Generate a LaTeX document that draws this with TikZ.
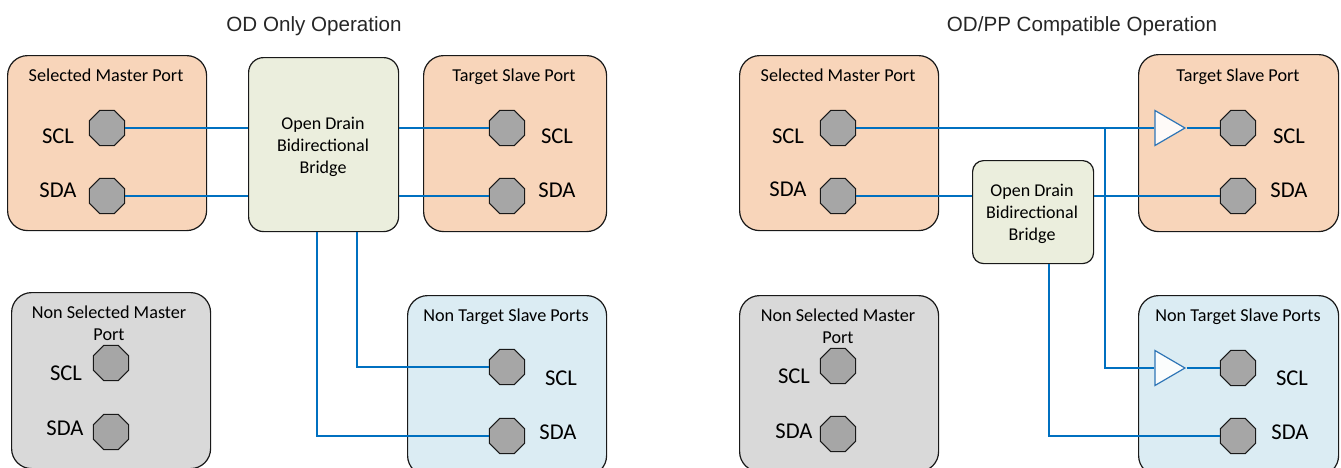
\documentclass[tikz,border=0pt]{standalone}
\usepackage{fontspec}
\setmainfont{Carlito}
\newfontfamily\titlefont{Liberation Sans}
\usetikzlibrary{shapes.geometric,calc}
\definecolor{wire}{HTML}{0070C0}
\definecolor{bufline}{HTML}{2E75B6}
\definecolor{orangebox}{HTML}{F8D5BA}
\definecolor{greenbox}{HTML}{EBEEDD}
\definecolor{bluebox}{HTML}{DBECF3}
\definecolor{graybox}{HTML}{D9D9D9}
\definecolor{octfill}{HTML}{A6A6A6}
\tikzset{
  portbox/.style={draw=black!90,line width=1.2pt,rounded corners=20pt,inner sep=0pt,anchor=north west},
  bridgebox/.style={draw=black!90,line width=1.2pt,rounded corners=15pt,fill=greenbox,inner sep=0pt,anchor=north west},
  pad/.style={regular polygon,regular polygon sides=8,draw=black!90,line width=1pt,fill=octfill,minimum size=38pt,inner sep=0pt},
  buf/.style={isosceles triangle,isosceles triangle stretches,shape border rotate=0,draw=bufline,line width=1.2pt,fill=white,fill opacity=0.9,minimum width=35pt,minimum height=30pt,inner sep=0pt},
  wr/.style={draw=wire,line width=1.7pt},
  wrthin/.style={draw=wire,line width=1.2pt},
  lab/.style={font=\fontsize{18.2}{22}\selectfont,inner sep=0pt},
  blab/.style={font=\fontsize{18}{22}\selectfont,inner sep=0pt,align=center},
  sig/.style={font=\fontsize{22.6}{26}\selectfont,inner sep=0pt},
  ttl/.style={font=\titlefont\fontsize{20.6}{24}\selectfont,inner sep=0pt,text=black!85},
}
\begin{document}
\begin{tikzpicture}[x=1pt,y=-1pt]
\useasboundingbox (0,0) rectangle (1341,467);
\fill[white] (0,0) rectangle (1341,467);
% titles
\node[ttl] (t1) at (314,26) {OD Only Operation};
\node[ttl] (t2) at (1082,26) {OD/PP Compatible Operation};
% ---------- left ----------
\node[portbox,fill=orangebox,minimum width=199pt,minimum height=175pt] (sm1) at (7,55) {};
\node[portbox,fill=orangebox,minimum width=183pt,minimum height=176pt] (ts1) at (423,55) {};
\node[portbox,fill=graybox,minimum width=199pt,minimum height=176pt] (ns1) at (11,292) {};
\node[portbox,fill=bluebox,minimum width=199pt,minimum height=180pt] (nt1) at (407,295) {};
\node[bridgebox,minimum width=150pt,minimum height=174pt] (br1) at (248,57) {};
\node[blab] (brt1) at (323,147) {Open Drain\\Bidirectional\\Bridge};
\node[lab] at (106,75) {Selected Master Port};
\node[lab] at (514,77) {Target Slave Port};
\node[lab] at (506,317) {Non Target Slave Ports};
\node[lab,align=center] at (109,323) {Non Selected Master\\Port};
\node[sig] at (58,136) {SCL};
\node[sig] at (58,190) {SDA};
\node[sig] at (557,136) {SCL};
\node[sig] at (557,190) {SDA};
\node[sig] at (66,373) {SCL};
\node[sig] at (65,428) {SDA};
\node[sig] at (561,378) {SCL};
\node[sig] at (558,432) {SDA};
\node[pad] (a1) at (107,128) {};
\node[pad] (a2) at (107,196) {};
\node[pad] (b1) at (507,128) {};
\node[pad] (b2) at (507,196) {};
\node[pad] (c1) at (111,363) {};
\node[pad] (c2) at (111,432) {};
\node[pad] (d1) at (507,367) {};
\node[pad] (d2) at (507,436) {};
\draw[wr] (a1.east) -- (a1.east -| br1.west);
\draw[wr] (a2.east) -- (a2.east -| br1.west);
\draw[wr] (b1.west) -- (b1.west -| br1.east);
\draw[wr] (b2.west) -- (b2.west -| br1.east);
\coordinate (v1) at (357,0);
\coordinate (v2) at (317,0);
\coordinate (v3) at (373,0);
\draw[wr] (v1 |- br1.south) |- (d1.west);
\draw[wrthin] (v2 |- br1.south) |- (v3 |- d2.west);
\draw[wr] (v3 |- d2.west) -- (d2.west);
% ---------- right ----------
\node[portbox,fill=orangebox,minimum width=199pt,minimum height=175pt] (sm2) at (739,55) {};
\node[portbox,fill=orangebox,minimum width=200pt,minimum height=177pt] (ts2) at (1138,54) {};
\node[portbox,fill=graybox,minimum width=199pt,minimum height=176pt] (ns2) at (739,295) {};
\node[portbox,fill=bluebox,minimum width=200pt,minimum height=180pt] (nt2) at (1138,295) {};
\node[lab] at (838,75) {Selected Master Port};
\node[lab] at (1238,77) {Target Slave Port};
\node[lab] at (1238,317) {Non Target Slave Ports};
\node[lab,align=center] at (838,326) {Non Selected Master\\Port};
\node[sig] at (788,136) {SCL};
\node[sig] at (788,189) {SDA};
\node[sig] at (1289,136) {SCL};
\node[sig] at (1289,190) {SDA};
\node[sig] at (794,376) {SCL};
\node[sig] at (794,431) {SDA};
\node[sig] at (1292,378) {SCL};
\node[sig] at (1290,432) {SDA};
\node[pad] (e1) at (838,128) {};
\node[pad] (e2) at (838,196) {};
\node[pad] (f1) at (1238,128) {};
\node[pad] (f2) at (1238,196) {};
\node[pad] (g1) at (838,366) {};
\node[pad] (g2) at (838,434) {};
\node[pad] (h1) at (1238,368) {};
\node[pad] (h2) at (1238,436) {};
\node[bridgebox,rounded corners=11pt,minimum width=121pt,minimum height=103pt] (br2) at (972,160) {};
\node[blab] (brt2) at (1032,214) {Open Drain\\Bidirectional\\Bridge};
\node[buf] (u1) at (1165,128) {};
\node[buf] (u2) at (1165,368) {};
\coordinate (w1) at (1105,0);
\coordinate (w2) at (1049,0);
\draw[wr] (e1.east) -- (e1.east -| u1.west);
\draw[wr] (u1.east) -- (f1.west);
\draw[wr] (w1 |- e1.east) |- (u2.west);
\draw[wr] (u2.east) -- (h1.west);
\draw[wr] (e2.east) -- (e2.east -| br2.west);
\draw[wr] (f2.west) -- (f2.west -| br2.east);
\draw[wrthin] (w2 |- br2.south) |- (w1 |- h2.west);
\draw[wr] (w1 |- h2.west) -- (h2.west);
\end{tikzpicture}
\end{document}
